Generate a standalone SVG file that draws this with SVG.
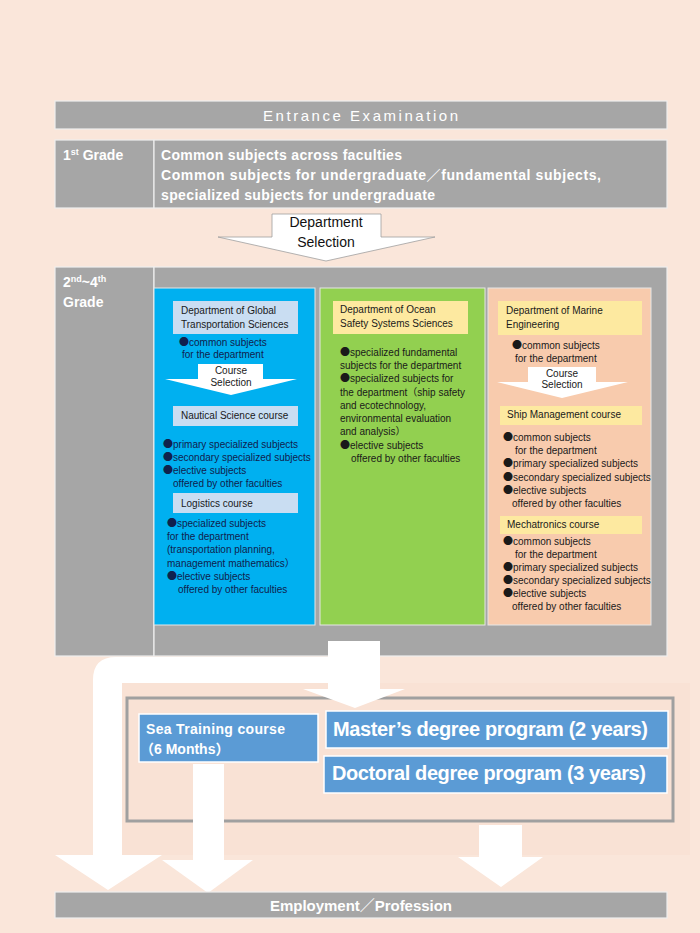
<svg xmlns="http://www.w3.org/2000/svg" width="700" height="933" viewBox="0 0 700 933">
<style>
.gray{fill:#a6a6a6;stroke:#eeeeee;stroke-width:1.2}
.wt{fill:#ffffff;font-family:"Liberation Sans",Arial,"Noto Sans CJK JP",sans-serif}
.bd{font-weight:bold}
.t10{font-family:"Liberation Sans",Arial,"Noto Sans CJK JP",sans-serif;font-size:10px;fill:#1a1a1a}
.navy{fill:#10214d}
.b{font-family:"Noto Sans CJK JP","Noto Sans CJK SC",sans-serif;font-size:10px}
.lb{fill:#c9ddf2}
.ye{fill:#fde9a0}
.arw{fill:#ffffff}
.prog{fill:#5b9bd5;stroke:#ffffff;stroke-width:1.5}
.mid{text-anchor:middle}
</style>
<rect id="bg" x="0" y="0" width="700" height="933" fill="#fae6da"/>
<rect x="122" y="683" width="568" height="172" fill="#f9e2d5"/>

<g id="entrance">
<rect class="gray" x="55" y="101" width="612" height="28"/>
<text class="wt mid" x="361" y="121" font-size="15" letter-spacing="1" textLength="196">Entrance Examination</text>
</g>

<g id="grade1">
<rect class="gray" x="55" y="140" width="99" height="68"/>
<rect class="gray" x="154" y="140" width="513" height="68"/>
<text class="wt bd" x="63" y="160" font-size="14">1<tspan font-size="9" dy="-5">st</tspan><tspan dy="5"> Grade</tspan></text>
<text class="wt bd" x="161" y="160" font-size="14" textLength="241">Common subjects across faculties</text>
<text class="wt bd" x="161" y="180" font-size="14" textLength="440">Common subjects for undergraduate／fundamental subjects,</text>
<text class="wt bd" x="161" y="200" font-size="14" textLength="274">specialized subjects for undergraduate</text>
</g>

<g id="grade2-4">
<rect class="gray" x="55" y="267" width="99" height="389"/>
<rect class="gray" x="154" y="267" width="513" height="389"/>
<text class="wt bd" x="63" y="287" font-size="14">2<tspan font-size="9" dy="-5">nd</tspan><tspan dy="5">~4</tspan><tspan font-size="9" dy="-5">th</tspan></text>
<text class="wt bd" x="63" y="307" font-size="14">Grade</text>
</g>

<g id="dept-global-transportation">
<rect x="154" y="288" width="161" height="337" fill="#00b0f0" stroke="#e6e6e6" stroke-width="1"/>
<rect class="lb" x="173" y="301" width="125" height="33"/>
<text class="t10" x="181" y="314">Department of Global</text>
<text class="t10" x="181" y="328">Transportation Sciences</text>
<text class="t10 navy" x="179" y="346"><tspan class="b">●</tspan>common subjects</text>
<text class="t10 navy" x="182" y="358">for the department</text>
<path class="arw" d="M198 364 L263 364 L263 379 L297 379 L231 395 L165 379 L198 379 Z"/>
<text class="t10 mid" x="231" y="374">Course</text>
<text class="t10 mid" x="231" y="386">Selection</text>
<rect class="lb" x="173" y="406" width="125" height="20"/>
<text class="t10" x="181" y="419">Nautical Science course</text>
<text class="t10 navy" x="163" y="448"><tspan class="b">●</tspan>primary specialized subjects</text>
<text class="t10 navy" x="163" y="461"><tspan class="b">●</tspan>secondary specialized subjects</text>
<text class="t10 navy" x="163" y="474"><tspan class="b">●</tspan>elective subjects</text>
<text class="t10 navy" x="173" y="487">offered by other faculties</text>
<rect class="lb" x="173" y="493" width="125" height="20"/>
<text class="t10" x="181" y="507">Logistics course</text>
<text class="t10 navy" x="167" y="527"><tspan class="b">●</tspan>specialized subjects</text>
<text class="t10 navy" x="167" y="540">for the department</text>
<text class="t10 navy" x="167" y="553">(transportation planning,</text>
<text class="t10 navy" x="167" y="567">management mathematics）</text>
<text class="t10 navy" x="167" y="580"><tspan class="b">●</tspan>elective subjects</text>
<text class="t10 navy" x="178" y="593">offered by other faculties</text>
</g>

<g id="dept-ocean-safety">
<rect x="320" y="288" width="165" height="337" fill="#92d050" stroke="#e6e6e6" stroke-width="1"/>
<rect class="ye" x="333" y="301" width="135" height="33"/>
<text class="t10" x="340" y="313">Department of Ocean</text>
<text class="t10" x="340" y="327">Safety Systems Sciences</text>
<text class="t10" x="340" y="356"><tspan class="b">●</tspan>specialized fundamental</text>
<text class="t10" x="340" y="369">subjects for the department</text>
<text class="t10" x="340" y="382"><tspan class="b">●</tspan>specialized subjects for</text>
<text class="t10" x="340" y="396">the department（ship safety</text>
<text class="t10" x="340" y="409">and ecotechnology,</text>
<text class="t10" x="340" y="422">environmental evaluation</text>
<text class="t10" x="340" y="435">and analysis）</text>
<text class="t10" x="340" y="449"><tspan class="b">●</tspan>elective subjects</text>
<text class="t10" x="351" y="462">offered by other faculties</text>
</g>

<g id="dept-marine-engineering">
<rect x="488" y="288" width="163" height="337" fill="#f8cbad" stroke="#e6e6e6" stroke-width="1"/>
<rect class="ye" x="498" y="301" width="144" height="34"/>
<text class="t10" x="506" y="314">Department of Marine</text>
<text class="t10" x="506" y="328">Engineering</text>
<text class="t10" x="512" y="349"><tspan class="b">●</tspan>common subjects</text>
<text class="t10" x="515" y="362">for the department</text>
<path class="arw" d="M528 367 L596 367 L596 382 L628 382 L562 398 L497 382 L528 382 Z"/>
<text class="t10 mid" x="562" y="377">Course</text>
<text class="t10 mid" x="562" y="388">Selection</text>
<rect class="ye" x="500" y="406" width="142" height="19"/>
<text class="t10" x="507" y="418">Ship Management course</text>
<text class="t10" x="503" y="441"><tspan class="b">●</tspan>common subjects</text>
<text class="t10" x="515" y="454">for the department</text>
<text class="t10" x="503" y="467"><tspan class="b">●</tspan>primary specialized subjects</text>
<text class="t10" x="503" y="481"><tspan class="b">●</tspan>secondary specialized subjects</text>
<text class="t10" x="503" y="494"><tspan class="b">●</tspan>elective subjects</text>
<text class="t10" x="512" y="507">offered by other faculties</text>
<rect class="ye" x="500" y="516" width="142" height="18"/>
<text class="t10" x="507" y="528">Mechatronics course</text>
<text class="t10" x="503" y="545"><tspan class="b">●</tspan>common subjects</text>
<text class="t10" x="515" y="558">for the department</text>
<text class="t10" x="503" y="571"><tspan class="b">●</tspan>primary specialized subjects</text>
<text class="t10" x="503" y="584"><tspan class="b">●</tspan>secondary specialized subjects</text>
<text class="t10" x="503" y="597"><tspan class="b">●</tspan>elective subjects</text>
<text class="t10" x="512" y="610">offered by other faculties</text>
</g>

<g id="graduate-frame">
<rect x="127" y="698" width="546" height="123" fill="none" stroke="#a0a0a0" stroke-width="3"/>
</g>

<g id="connectors">
<path d="M272 214 L381 214 L381 237 L435 237 L326 261 L218 237 L272 237 Z" fill="#ffffff" stroke="#a0a0a0" stroke-width="0.8"/>
<text class="mid" x="326" y="227" font-family="Liberation Sans,Arial,sans-serif" font-size="14" fill="#111">Department</text>
<text class="mid" x="326" y="247" font-family="Liberation Sans,Arial,sans-serif" font-size="14" fill="#111">Selection</text>
<path class="arw" d="M328 641 L380 641 L380 689 L405 689 L355 708 L303 689 L328 689 Z"/>
<path class="arw" d="M328 657 L116 657 Q93 657 93 680 L93 855 L55 855 L108 890 L162 855 L122 855 L122 683 L328 683 Z"/>
<path class="arw" d="M193 764 L224 764 L224 860 L253 860 L208 893 L162 860 L193 860 Z"/>
<path class="arw" d="M479 825 L522 825 L522 857 L543 857 L501 887 L458 857 L479 857 Z"/>
</g>

<g id="sea-training">
<rect class="prog" x="139" y="714" width="179" height="48"/>
<text class="wt bd" x="146" y="734" font-size="14" textLength="139">Sea Training course</text>
<text class="wt bd" x="140" y="754" font-size="14">（6 Months）</text>
</g>

<g id="master">
<rect class="prog" x="326" y="711" width="342" height="37"/>
<text class="wt bd" x="333" y="736" font-size="20" textLength="315">Master’s degree program (2 years)</text>
</g>

<g id="doctoral">
<rect class="prog" x="324" y="756" width="343" height="37"/>
<text class="wt bd" x="332" y="780" font-size="20" textLength="314">Doctoral degree program (3 years)</text>
</g>

<g id="employment">
<rect class="gray" x="55" y="892" width="612" height="26"/>
<text class="wt bd mid" x="361" y="911" font-size="15" textLength="182">Employment／Profession</text>
</g>
</svg>
